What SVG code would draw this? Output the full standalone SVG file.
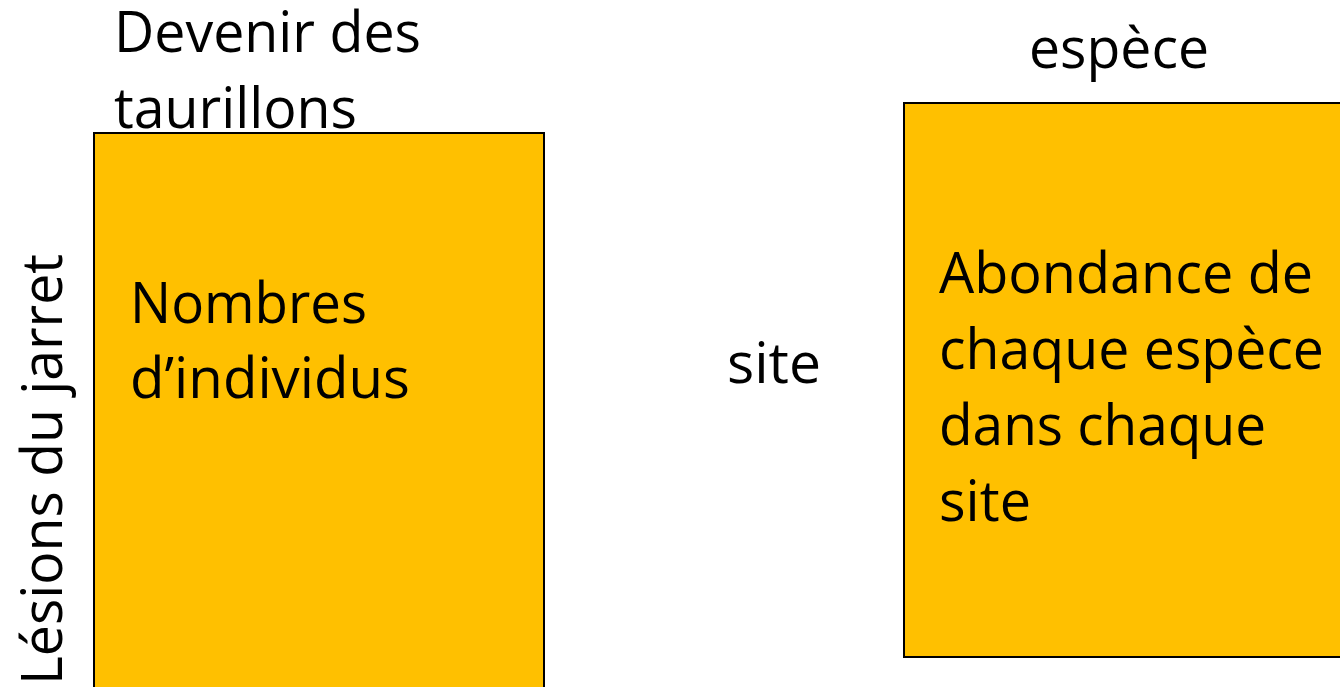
<svg xmlns="http://www.w3.org/2000/svg" width="1340" height="687" viewBox="0 0 1340 687">
<style>
.box{fill:#FFC000;stroke:#000;stroke-width:2}
.t{font-family:"Open Sans","Noto Sans","Liberation Sans",sans-serif;font-size:56px;fill:#000}
</style>
<rect x="0" y="0" width="1340" height="687" fill="#fff"/>
<g id="node-left">
<rect class="box" x="94" y="133" width="450" height="580"/>
<text class="t" x="130" y="323" textLength="237" lengthAdjust="spacingAndGlyphs">Nombres</text>
<text class="t" x="130" y="398" textLength="280" lengthAdjust="spacingAndGlyphs">d’individus</text>
</g>
<g id="node-right">
<rect class="box" x="904" y="103" width="460" height="554"/>
<text class="t" x="939" y="293" textLength="374" lengthAdjust="spacingAndGlyphs">Abondance de</text>
<text class="t" x="939" y="369" textLength="385" lengthAdjust="spacingAndGlyphs">chaque espèce</text>
<text class="t" x="939" y="445" textLength="327" lengthAdjust="spacingAndGlyphs">dans chaque</text>
<text class="t" x="939" y="521" textLength="92" lengthAdjust="spacingAndGlyphs">site</text>
</g>
<g id="labels">
<text class="t" x="114" y="52" textLength="307" lengthAdjust="spacingAndGlyphs">Devenir des</text>
<text class="t" x="114" y="128" textLength="243" lengthAdjust="spacingAndGlyphs">taurillons</text>
<text class="t" x="1029" y="68" textLength="180" lengthAdjust="spacingAndGlyphs">espèce</text>
<text class="t" x="727" y="383" textLength="94" lengthAdjust="spacingAndGlyphs">site</text>
<text class="t" transform="translate(62,685) rotate(-90)" x="0" y="0" textLength="431" lengthAdjust="spacingAndGlyphs">Lésions du jarret</text>
</g>
<g id="connectors"></g>
</svg>
